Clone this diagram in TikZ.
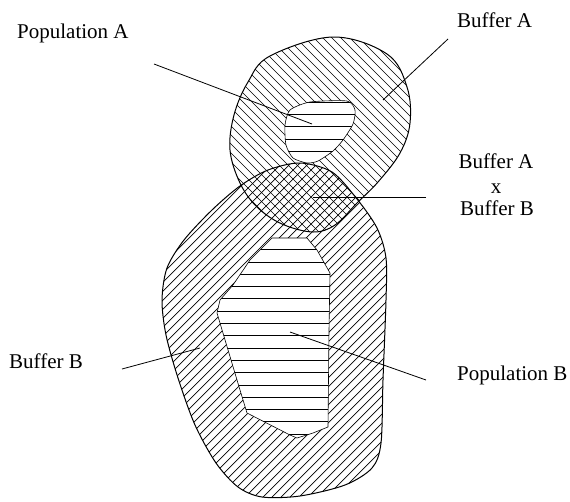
\documentclass[tikz,border=0pt]{standalone}
\usepackage{fontspec}
\setmainfont{Liberation Serif}
\begin{document}
\begin{tikzpicture}[x=1pt,y=-1pt,
  lbl/.style={inner sep=0pt, font=\fontsize{21}{24}\selectfont},
  leader/.style={line width=0.8pt},
  outline/.style={line width=1pt},
  hatch/.style={line width=0.7pt},
  hline/.style={line width=0.8pt}]
\useasboundingbox (0,0) rectangle (570,501);
\def\shapeA{plot[smooth cycle, tension=0.6] coordinates {(333,37) (387,54) (407,87) (410,123) (400,153) (378,182) (357,203) (335,225) (313,232) (282,224) (257,207) (240,183) (230,150) (234,115) (248,82) (270,56)}}
\def\shapeB{plot[smooth cycle, tension=0.5] coordinates {(300,163) (332,172) (357,199) (377,228) (386,258) (386,300) (383,380) (381,443) (372,468) (345,485) (300,496) (262,497) (238,487) (216,463) (195,425) (178,378) (166,335) (162,300) (167,268) (184,240) (212,210) (240,186) (268,170)}}
\def\shapePA{plot[smooth cycle, tension=0.4] coordinates {(310,102) (347,101) (355,110) (353,124) (343,140) (333,151) (318,161) (307,163) (293,158) (286,145) (285,125) (290,110)}}
\def\shapePB{(272,238) -- (307,238) -- (317,250) -- (330,273) -- (329,330) -- (328,427) -- (313,433) -- (297,438) -- (290,435) -- (247,413) -- (240,390) -- (217,313) -- (220,300) -- (233,285) -- (250,260) -- cycle}
% buffer A hatch (\\\)
\begin{scope}
  \clip \shapeA;
  \foreach \i in {-300,-291,...,450} \draw[hatch] (\i,0) -- ++(260,260);
\end{scope}
% buffer B hatch (///)
\begin{scope}
  \clip \shapeB;
  \foreach \i in {-200,-191,...,450} \draw[hatch] (\i,501) -- ++(360,-360);
\end{scope}
\draw[outline] \shapeA;
\draw[outline] \shapeB;
% populations
\fill[white] \shapePA;
\fill[white] \shapePB;
\begin{scope}
  \clip \shapePA;
  \foreach \y in {102,114.3,...,170} \draw[hline] (270,\y) -- (370,\y);
\end{scope}
\begin{scope}
  \clip \shapePB;
  \foreach \y in {102,114.3,...,445} \draw[hline] (200,\y) -- (340,\y);
\end{scope}
\draw[line width=0.6pt] \shapePA;
\draw[line width=0.6pt] \shapePB;
% labels
\node[lbl, anchor=base west] (popA) at (17,38) {Population A};
\node[lbl, anchor=base west] (bufA) at (457,27) {Buffer A};
\node[lbl, anchor=base] (bufAB1) at (496,168) {Buffer A};
\node[lbl, anchor=base] (bufABx) at (496,193) {x};
\node[lbl, anchor=base] (bufAB2) at (497,215) {Buffer B};
\node[lbl, anchor=base west] (bufB) at (9,368) {Buffer B};
\node[lbl, anchor=base west] (popB) at (457,380) {Population B};
% leader end points
\coordinate (popAs) at (154,64);  \coordinate (popAe) at (312,124);
\coordinate (bufAs) at (448,39);  \coordinate (bufAe) at (383,100);
\coordinate (abS) at (426,197);   \coordinate (abE) at (313,197);
\coordinate (bufBs) at (122,369); \coordinate (bufBe) at (200,348);
\coordinate (popBs) at (426,380); \coordinate (popBe) at (290,332);
\draw[leader] (popAs) -- (popAe);
\draw[leader] (bufAs) -- (bufAe);
\draw[leader] (abS) -- (abE);
\draw[leader] (bufBs) -- (bufBe);
\draw[leader] (popBs) -- (popBe);
\end{tikzpicture}
\end{document}
